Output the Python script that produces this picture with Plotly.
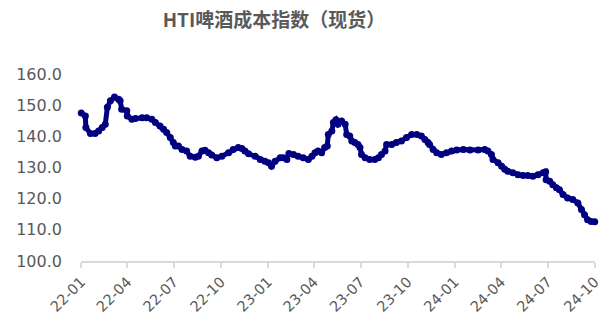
import plotly.graph_objects as go

title = "HTI啤酒成本指数（现货）"

dates = [
    "2022-01-01", "2022-01-09", "2022-01-10", "2022-01-19", "2022-01-28", "2022-02-04", "2022-02-11",
    "2022-02-17", "2022-02-21", "2022-02-27", "2022-03-07", "2022-03-15", "2022-03-18", "2022-03-21",
    "2022-03-31", "2022-04-01", "2022-04-10", "2022-04-17", "2022-04-30", "2022-05-09", "2022-05-19",
    "2022-05-26", "2022-06-04", "2022-06-11", "2022-06-17", "2022-06-24", "2022-06-30", "2022-07-04",
    "2022-07-10", "2022-07-17", "2022-07-26", "2022-08-02", "2022-08-12", "2022-08-18", "2022-08-25",
    "2022-08-31", "2022-09-07", "2022-09-13", "2022-09-23", "2022-10-03", "2022-10-16", "2022-10-25",
    "2022-11-04", "2022-11-11", "2022-11-17", "2022-11-24", "2022-12-07", "2022-12-17", "2022-12-26",
    "2023-01-02", "2023-01-08", "2023-01-15", "2023-01-25", "2023-01-31", "2023-02-07", "2023-02-11",
    "2023-02-20", "2023-03-01", "2023-03-11", "2023-03-21", "2023-03-28", "2023-04-03", "2023-04-09",
    "2023-04-16", "2023-04-22", "2023-04-27", "2023-04-29", "2023-05-06", "2023-05-09", "2023-05-14",
    "2023-05-18", "2023-05-25", "2023-06-01", "2023-06-04", "2023-06-10", "2023-06-14", "2023-06-20",
    "2023-06-26", "2023-06-30", "2023-07-03", "2023-07-10", "2023-07-19", "2023-07-29", "2023-08-05",
    "2023-08-11", "2023-08-18", "2023-08-21", "2023-08-31", "2023-09-09", "2023-09-19", "2023-09-29",
    "2023-10-09", "2023-10-19", "2023-10-28", "2023-11-04", "2023-11-10", "2023-11-13", "2023-11-20",
    "2023-11-27", "2023-12-06", "2023-12-16", "2023-12-26", "2024-01-05", "2024-01-18", "2024-01-31",
    "2024-02-16", "2024-02-29", "2024-03-06", "2024-03-13", "2024-03-16", "2024-03-26", "2024-04-02",
    "2024-04-08", "2024-04-14", "2024-04-24", "2024-05-04", "2024-05-14", "2024-05-23", "2024-06-02",
    "2024-06-12", "2024-06-22", "2024-06-27", "2024-06-28", "2024-07-05", "2024-07-11", "2024-07-18",
    "2024-07-24", "2024-07-31", "2024-08-09", "2024-08-19", "2024-08-29", "2024-09-05", "2024-09-11",
    "2024-09-17", "2024-09-24", "2024-10-01",
]

values = [
    147.5, 146.5, 142.8, 140.9, 140.9, 141.7, 142.8,
    143.9, 149.3, 151.4, 152.6, 151.9, 151.4, 148.7,
    148.2, 146.5, 145.5, 145.7, 146.0, 146.0, 145.5,
    144.4, 143.3, 142.3, 141.2, 139.6, 138.0, 136.9,
    136.9, 135.8, 135.3, 133.6, 133.3, 133.6, 135.3,
    135.5, 134.7, 134.0, 133.1, 133.6, 134.7, 135.8,
    136.4, 136.1, 135.3, 134.4, 133.6, 132.6, 132.0,
    131.5, 130.4, 132.0, 133.1, 133.1, 132.6, 134.5,
    134.2, 133.6, 133.1, 132.6, 133.6, 134.7, 135.3,
    134.7, 136.4, 136.9, 140.6, 141.7, 144.4, 145.3,
    143.9, 144.9, 143.9, 140.6, 140.1, 138.5, 138.0,
    137.4, 136.4, 134.2, 133.1, 132.6, 132.6, 133.1,
    134.2, 135.3, 137.4, 137.4, 138.0, 138.5, 139.6,
    140.6, 140.6, 140.1, 139.0, 138.0, 137.4, 135.8,
    134.7, 134.2, 134.7, 135.3, 135.6, 135.8, 135.6,
    135.6, 135.8, 135.3, 134.2, 132.6, 131.5, 130.4,
    129.4, 128.8, 128.3, 127.7, 127.4, 127.4, 127.2,
    127.7, 128.3, 128.6, 126.1, 125.6, 124.5, 123.5,
    122.9, 121.3, 120.2, 119.7, 118.6, 116.5, 114.8,
    113.2, 112.7, 112.6,
]

tick_dates = ["2022-01-01", "2022-04-01", "2022-07-01", "2022-10-01",
              "2023-01-01", "2023-04-01", "2023-07-01", "2023-10-01",
              "2024-01-01", "2024-04-01", "2024-07-01", "2024-10-01"]
y_ticks = [100, 110, 120, 130, 140, 150, 160]

fig = go.Figure()
fig.add_trace(go.Scatter(
    x=dates, y=values, mode="lines+markers",
    line=dict(color="#000080", width=5),
    marker=dict(color="#000080", size=7),
    showlegend=False, cliponaxis=False,
))

fig.update_layout(
    width=600, height=316,
    margin=dict(l=81, r=5, t=74, b=55),
    paper_bgcolor="white", plot_bgcolor="white",
    title=dict(text=title, x=274 / 600, xanchor="center", xref="container",
               y=1 - 20 / 316, yanchor="middle", yref="container",
               font=dict(family="Noto Sans CJK SC", size=19, color="#595959", weight="bold")),
    xaxis=dict(
        type="date", range=["2021-12-31 12:00", "2024-10-01 12:00"],
        tickvals=tick_dates, tickformat="%y-%m", tickangle=-45,
        showgrid=False, zeroline=False, automargin=False,
        ticklabeloverflow="allow",
        showline=True, linecolor="#d9d9d9", linewidth=1.5,
        ticks="outside", ticklen=5, tickcolor="#d9d9d9", tickwidth=1.5,
        tickfont=dict(family="DejaVu Sans", size=14.5, color="#595959"),
    ),
    yaxis=dict(
        range=[100, 160], tickvals=y_ticks, tickformat=".1f",
        showgrid=False, zeroline=False, showline=False, ticks="",
        ticklabelstandoff=18, automargin=False,
        tickfont=dict(family="DejaVu Sans", size=16, color="#595959"),
    ),
)

fig.write_html("out.html",
               config={"displayModeBar": False},
               post_script="document.body.style.margin='0px';document.body.style.overflow='hidden';")
